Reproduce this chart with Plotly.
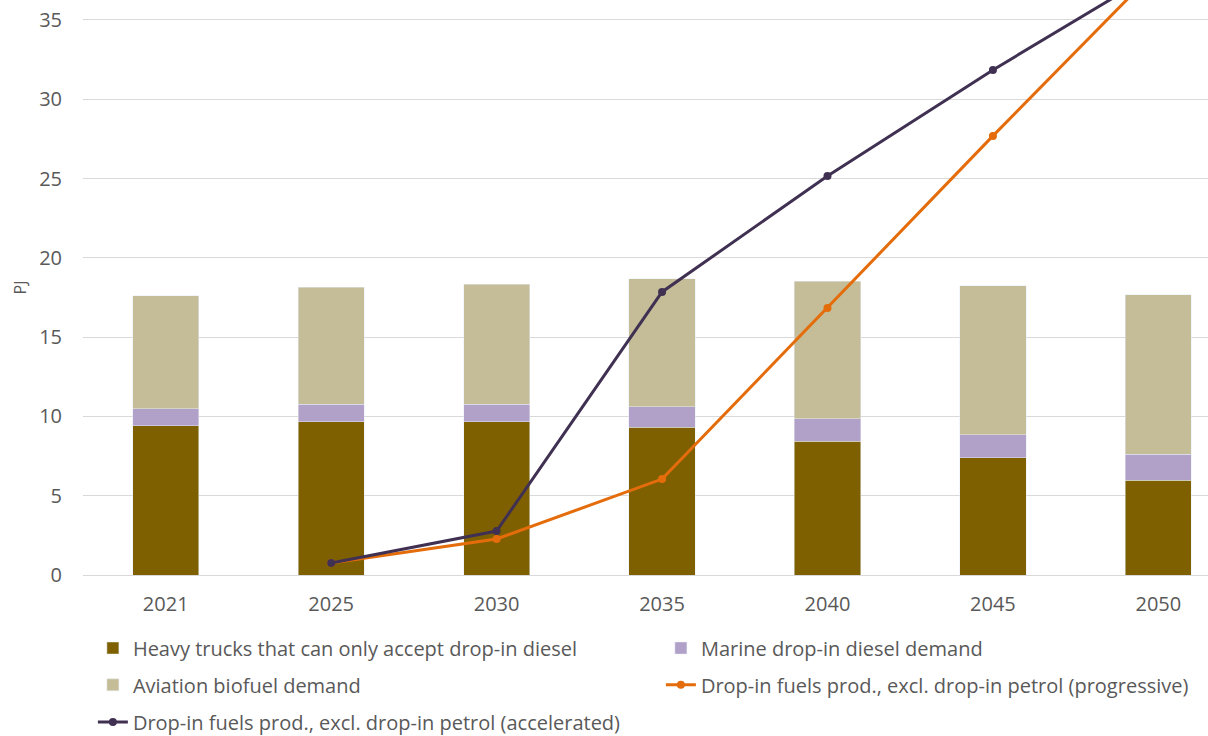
import plotly.graph_objects as go

years = ["2021", "2025", "2030", "2035", "2040", "2045", "2050"]
heavy_trucks = [9.40, 9.65, 9.65, 9.33, 8.45, 7.38, 5.99]
marine = [1.07, 1.13, 1.13, 1.27, 1.39, 1.45, 1.64]
aviation = [7.13, 7.38, 7.57, 8.07, 8.70, 9.40, 10.03]
progressive = [None, 0.76, 2.27, 6.05, 16.84, 27.69, 38.3]
accelerated = [None, 0.76, 2.77, 17.85, 25.16, 31.85, 38.1]

FONT = "Open Sans"
GREY = "#595959"
FS = 20

fig = go.Figure()
fig.add_bar(x=years, y=heavy_trucks, name="Heavy trucks that can only accept drop-in diesel",
            marker_color="#7F6000", width=0.4, legend="legend")
fig.add_bar(x=years, y=marine, name="Marine drop-in diesel demand",
            marker_color="#B1A0C7", width=0.4, legend="legend")
fig.add_bar(x=years, y=aviation, name="Aviation biofuel demand",
            marker_color="#C4BD97", width=0.4, legend="legend2")
fig.add_scatter(x=years, y=progressive, name="Drop-in fuels prod., excl. drop-in petrol (progressive)",
                mode="lines+markers", line=dict(color="#E46C0A", width=3),
                marker=dict(size=8, color="#E46C0A"), legend="legend2")
fig.add_scatter(x=years, y=accelerated, name="Drop-in fuels prod., excl. drop-in petrol (accelerated)",
                mode="lines+markers", line=dict(color="#403152", width=3),
                marker=dict(size=8, color="#403152"), legend="legend3")

def leg(yc):
    return dict(orientation="h", x=-0.0001, xanchor="left", y=yc, yanchor="middle",
                entrywidth=513, entrywidthmode="pixels", indentation=10,
                font=dict(family=FONT, size=FS, color=GREY), traceorder="normal",
                bgcolor="rgba(0,0,0,0)")

fig.update_layout(
    width=1208, height=736,
    barmode="stack",
    plot_bgcolor="white", paper_bgcolor="white",
    margin=dict(l=83, r=0, t=0, b=161, autoexpand=False),
    font=dict(family=FONT, size=FS, color=GREY),
    legend=leg(-0.127),
    legend2=leg(-0.191),
    legend3=leg(-0.2557),
    xaxis=dict(type="category", range=[-0.5, 6.3], showgrid=False,
               tickfont=dict(size=FS, color=GREY), ticks="", showline=False,
               ticklabelstandoff=15),
    yaxis=dict(range=[0, 36.26], dtick=5, showgrid=True, gridcolor="#D9D9D9", gridwidth=1,
               zeroline=True, zerolinecolor="#D9D9D9", zerolinewidth=1,
               tickfont=dict(size=FS, color=GREY), ticks="", ticklabelstandoff=20,
               title=dict(text="PJ", font=dict(size=16, color=GREY), standoff=8)),
)

fig.write_html("out.html")
